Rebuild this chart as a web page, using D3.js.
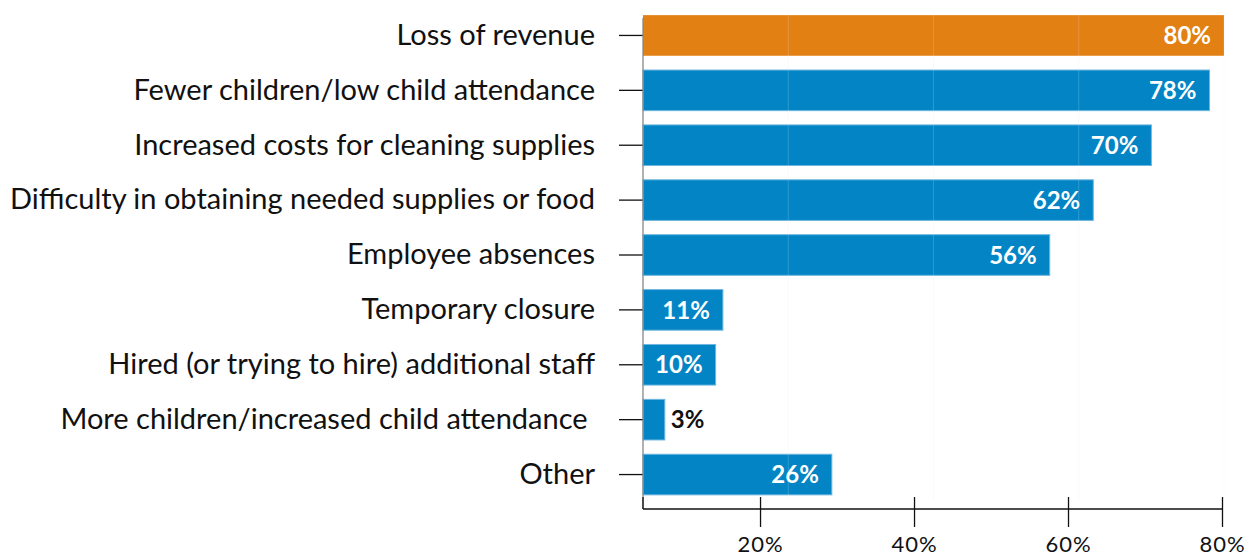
<!DOCTYPE html>
<html>
<head>
<meta charset="utf-8">
<script src="https://cdn.jsdelivr.net/npm/d3@7"></script>
<style>
  body { margin: 0; background: #fff; }
  svg { display: block; }
</style>
</head>
<body>
<svg id="chart" width="1254" height="556"></svg>
<script>
// data
const categories = [
  "Loss of revenue",
  "Fewer children/low child attendance",
  "Increased costs for cleaning supplies",
  "Difficulty in obtaining needed supplies or food",
  "Employee absences",
  "Temporary closure",
  "Hired (or trying to hire) additional staff",
  "More children/increased child attendance ",
  "Other"
];
const values = [80, 78, 70, 62, 56, 11, 10, 3, 26];
const highlight = [true, false, false, false, false, false, false, false, false];
const tickValues = [20, 40, 60, 80];

const width = 1254, height = 556;
const svg = d3.select("#chart");

const blue = "#0385c5", orange = "#e38014";

// bar scale (0 sits on the y axis)
const x = d3.scaleLinear().domain([0, 80]).range([643, 1224]);
// tick labels in the source sit on a slightly different grid
const xTicks = d3.scaleLinear().domain([4.8, 80]).range([643, 1222]);

const y = d3.scaleBand()
  .domain(categories)
  .range([8, 502])
  .paddingInner(0.26)
  .paddingOuter(0.13);

const axisY = 509;

// bars
svg.append("g").selectAll("rect")
  .data(categories)
  .join("rect")
    .attr("x", x(0))
    .attr("y", d => y(d))
    .attr("width", (d, i) => x(values[i]) - x(0))
    .attr("height", y.bandwidth())
    .attr("fill", (d, i) => highlight[i] ? orange : blue)
    .attr("stroke", (d, i) => highlight[i] ? "none" : "#6db6df")
    .attr("stroke-width", 1);

// faint gridlines
svg.append("g").selectAll("line")
  .data(tickValues)
  .join("line")
    .attr("x1", d => x(d)).attr("x2", d => x(d))
    .attr("y1", 10).attr("y2", 500)
    .attr("stroke", "#dde6ee")
    .attr("stroke-opacity", 0.2);

// value labels
svg.append("g").selectAll("text")
  .data(categories)
  .join("text")
    .attr("x", (d, i) => values[i] < 5 ? x(values[i]) + 6 : x(values[i]) - 13)
    .attr("y", d => y(d) + y.bandwidth() / 2)
    .attr("dy", "0.36em")
    .attr("text-anchor", (d, i) => values[i] < 5 ? "start" : "end")
    .attr("fill", (d, i) => values[i] < 5 ? "#111" : "#fff")
    .style("font-family", "Lato, sans-serif")
    .style("font-weight", "bold")
    .style("font-size", "24px")
    .text((d, i) => values[i] + "%");

// y axis
const yAxis = d3.axisLeft(y).tickSize(24).tickSizeOuter(0).tickPadding(24);
const gy = svg.append("g")
  .attr("transform", `translate(${x(0)},0)`)
  .call(yAxis);
gy.select(".domain").remove();
gy.selectAll(".tick line").attr("stroke", "#111").attr("stroke-width", 1.3);
gy.selectAll(".tick text")
  .attr("fill", "#111")
  .style("font-family", "Lato, sans-serif")
  .style("font-size", "29px")
  .style("white-space", "pre");
svg.append("line")
  .attr("x1", x(0)).attr("x2", x(0))
  .attr("y1", 18).attr("y2", axisY)
  .attr("stroke", "#888").attr("stroke-width", 1.3);
svg.append("line")
  .attr("x1", x(0)).attr("x2", x(0))
  .attr("y1", axisY - 12).attr("y2", axisY)
  .attr("stroke", "#111").attr("stroke-width", 1.3);

// x axis
const xAxis = d3.axisBottom(xTicks)
  .tickValues(tickValues)
  .tickFormat(d => d + "%")
  .tickSize(18)
  .tickPadding(9);
const gx = svg.append("g")
  .attr("transform", `translate(0,${axisY})`)
  .call(xAxis);
gx.select(".domain").remove();
gx.selectAll(".tick line")
  .attr("y1", -12)
  .attr("stroke", "#111").attr("stroke-width", 1.3);
gx.selectAll(".tick text")
  .attr("fill", "#111")
  .style("font-family", "Lato, sans-serif")
  .style("font-size", "22px")
  .style("letter-spacing", "1px");
svg.append("line")
  .attr("x1", x(0)).attr("x2", xTicks(80))
  .attr("y1", axisY).attr("y2", axisY)
  .attr("stroke", "#111").attr("stroke-width", 1.3);
</script>
</body>
</html>
